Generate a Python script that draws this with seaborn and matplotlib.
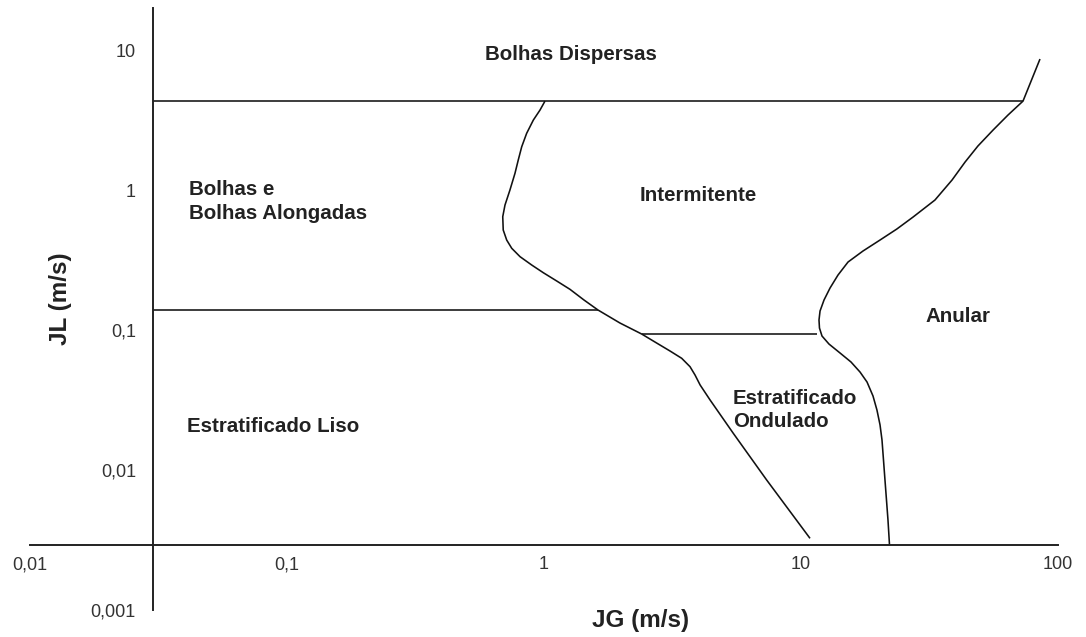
import matplotlib
matplotlib.use("Agg")
import matplotlib.pyplot as plt
from matplotlib.ticker import NullLocator, FixedLocator, FixedFormatter
import numpy as np
import pandas as pd
import seaborn as sns

# ---------------- data ----------------
x_ticks = [0.01, 0.1, 1, 10, 100]
x_tick_labels = ["0,01", "0,1", "1", "10", "100"]
y_ticks = [0.001, 0.01, 0.1, 1, 10]
y_tick_labels = ["0,001", "0,01", "0,1", "1", "10"]

origin_jg = 0.03      # where the JL axis crosses
origin_jl = 0.0029    # where the JG axis crosses

# Bolhas Dispersas boundary (horizontal)
disp_jg = [0.03, 73.1]
disp_jl = [4.32, 4.32]

# Bolhas / Estratificado Liso boundary (horizontal)
bolhas_jg = [0.03, 1.62]
bolhas_jl = [0.139, 0.139]

# Intermitente / Estratificado Ondulado boundary (horizontal)
inter_jg = [2.40, 11.54]
inter_jl = [0.093, 0.093]

# left curve (Bolhas-Intermitente / Estratificado boundary)
curve_a_jg = [1.009, 0.965, 0.909, 0.856, 0.819, 0.794, 0.771, 0.737, 0.705, 0.691,
              0.694, 0.716, 0.749, 0.807, 0.896, 0.994, 1.121, 1.262, 1.431, 1.622,
              1.975, 2.40, 2.745, 3.093, 3.434, 3.70, 3.87, 4.05, 4.43, 5.45,
              7.35, 10.84]
curve_a_jl = [4.32, 3.728, 3.162, 2.541, 2.038, 1.638, 1.316, 1.0, 0.781, 0.645,
              0.518, 0.439, 0.3834, 0.334, 0.2912, 0.2566, 0.2239, 0.1953, 0.1638, 0.139,
              0.1122, 0.0936, 0.0807, 0.0708, 0.0628, 0.0547, 0.0477, 0.0405, 0.0316, 0.0183,
              0.00849, 0.00325]

# right curve (Anular boundary)
curve_b_jg = [85.1, 73.1, 63.9, 55.9, 48.8, 43.5, 38.7, 33.2, 27.3, 23.6,
              20.3, 17.42, 15.24, 13.93, 12.97, 12.29, 11.86, 11.75, 11.8, 12.07,
              12.85, 14.19, 15.65, 16.97, 18.07, 19.06, 19.75, 20.3, 20.66, 20.94,
              21.22, 21.51, 21.8, 22.1]
curve_b_jl = [8.625, 4.32, 3.434, 2.683, 2.063, 1.585, 1.179, 0.848, 0.6415, 0.5266,
              0.4394, 0.3666, 0.306, 0.247, 0.1995, 0.1638, 0.1367, 0.1179, 0.1033, 0.0906,
              0.0794, 0.0685, 0.0591, 0.0501, 0.0425, 0.0338, 0.0268, 0.021, 0.0164, 0.01179,
              0.00849, 0.0061, 0.00439, 0.00291]

region_labels = ["Bolhas Dispersas", "Bolhas e\nBolhas Alongadas", "Intermitente",
                 "Anular", "Estratificado\nOndulado", "Estratificado Liso"]
region_jg = [1.27, 0.0416, 2.36, 30.6, 5.44, 0.0408]
region_jl = [9.36, 0.828, 0.92, 0.124, 0.0268, 0.0206]
region_ha = ["center", "left", "left", "left", "left", "left"]

# ---------------- style ----------------
sns.set_theme(style="white")
plt.rcParams["font.family"] = ["Liberation Sans", "DejaVu Sans"]

W, H = 1086, 637
fig = plt.figure(figsize=(W / 100, H / 100), dpi=100)
ax = fig.add_axes([30 / W, 27 / H, 1028 / W, 602.1 / H])
ax.set_xscale("log")
ax.set_yscale("log")

line_kw = dict(color="#111111", linewidth=1.15, sort=False, estimator=None, ax=ax,
               legend=False, solid_joinstyle="round", solid_capstyle="butt")
for xs, ys in [(disp_jg, disp_jl), (bolhas_jg, bolhas_jl), (inter_jg, inter_jl),
               (curve_a_jg, curve_a_jl), (curve_b_jg, curve_b_jl)]:
    df = pd.DataFrame({"JG": xs, "JL": ys})
    sns.lineplot(data=df, x="JG", y="JL", **line_kw)

ax.set_xscale("log")
ax.set_yscale("log")
ax.set_xlim(0.01, 100)
ax.set_ylim(0.001, 20)

# spines crossing inside the plot
for s in ["top", "right"]:
    ax.spines[s].set_visible(False)
ax.spines["left"].set_position(("data", origin_jg))
ax.spines["bottom"].set_position(("data", origin_jl))
for s in ["left", "bottom"]:
    ax.spines[s].set_color("#222222")
    ax.spines[s].set_linewidth(1.4)

ax.xaxis.set_major_locator(FixedLocator(x_ticks))
ax.xaxis.set_major_formatter(FixedFormatter(x_tick_labels))
ax.yaxis.set_major_locator(FixedLocator(y_ticks))
ax.yaxis.set_major_formatter(FixedFormatter(y_tick_labels))
ax.xaxis.set_minor_locator(NullLocator())
ax.yaxis.set_minor_locator(NullLocator())
ax.tick_params(axis="x", length=0, pad=8, labelsize=13, labelcolor="#333333")
ax.tick_params(axis="y", length=0, pad=12, labelsize=13, labelcolor="#333333")
ax.grid(False)

ax.set_xlabel("JG (m/s)", fontsize=17.5, fontweight="bold", color="#222222")
ax.set_ylabel("JL (m/s)", fontsize=17.5, fontweight="bold", color="#222222")
ax.xaxis.set_label_coords(0.594, 0.002)
ax.yaxis.set_label_coords(0.041, 0.517)

for lab, xv, yv, ha in zip(region_labels, region_jg, region_jl, region_ha):
    ax.text(xv, yv, lab, ha=ha, va="center", fontsize=14.8, fontweight="bold",
            color="#222222", linespacing=1.27)

fig.savefig("out.png", dpi=100)
